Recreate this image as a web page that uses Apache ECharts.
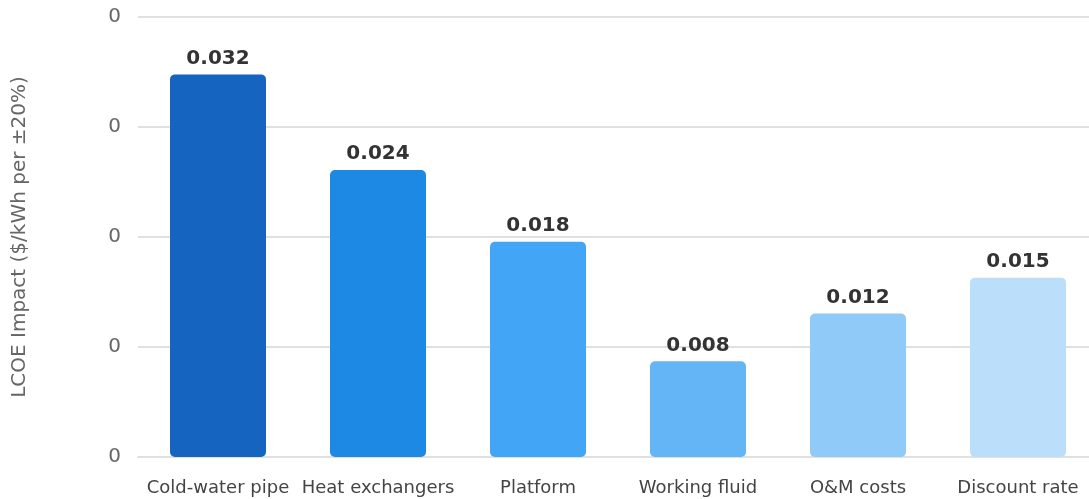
<!DOCTYPE html>
<html>
<head>
<meta charset="utf-8">
<script src="https://cdn.jsdelivr.net/npm/echarts@6/dist/echarts.min.js"></script>
<style>
  html, body { margin: 0; padding: 0; background: #fff; }
  #chart { width: 1089px; height: 499px; }
</style>
</head>
<body>
<div id="chart"></div>
<script>
const categories = ["Cold-water pipe", "Heat exchangers", "Platform", "Working fluid", "O&M costs", "Discount rate"];
const impacts = [0.032, 0.024, 0.018, 0.008, 0.012, 0.015];
const barColors = ["#1565C0", "#1E88E5", "#42A5F5", "#64B5F6", "#90CAF9", "#BBDEFB"];

// axis top is 15% above the largest bar, split in 4
const yMax = Math.max(...impacts) * 1.15;

const chart = echarts.init(document.getElementById("chart"));
chart.setOption({
    animation: false,
    textStyle: { fontFamily: "DejaVu Sans" },
    grid: { left: 138, top: 17, width: 960, bottom: 42, outerBoundsMode: "none", containLabel: false },
    xAxis: {
        type: "category",
        data: categories,
        axisTick: { show: false },
        axisLine: { lineStyle: { color: "#e0e0e0", width: 2 } },
        axisLabel: { color: "#444", fontSize: 18, margin: 22, interval: 0 }
    },
    yAxis: {
        type: "value",
        min: 0,
        max: yMax,
        interval: yMax / 4,
        name: "LCOE Impact ($/kWh per ±20%)",
        nameLocation: "middle",
        nameGap: 108,
        nameTextStyle: { color: "#666", fontSize: 20 },
        axisLine: { show: false },
        axisTick: { show: false },
        splitLine: { lineStyle: { color: "#e0e0e0", width: 2 } },
        axisLabel: {
            color: "#666",
            fontSize: 20,
            margin: 17,
            formatter: v => v.toFixed(0)
        }
    },
    series: [{
        type: "bar",
        barWidth: "60%",
        data: impacts.map((v, i) => ({
            value: v,
            itemStyle: { color: barColors[i], borderRadius: 5 }
        })),
        label: {
            show: true,
            position: "top",
            distance: 6,
            color: "#333",
            fontSize: 20,
            fontWeight: "bold",
            formatter: p => p.value.toFixed(3)
        }
    }]
});
</script>
</body>
</html>
